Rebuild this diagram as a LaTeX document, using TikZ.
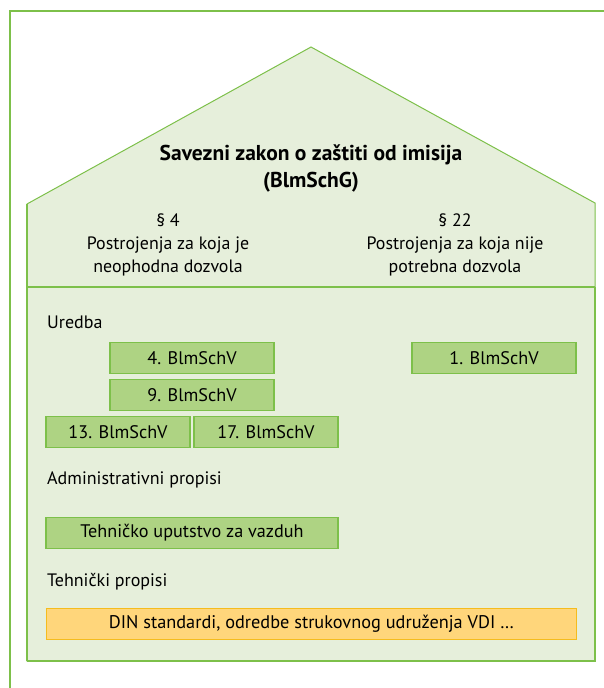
\documentclass[tikz,border=0pt]{standalone}
\usepackage{fontspec}
\setmainfont{PT Sans}
\definecolor{hgreen}{HTML}{7DC04A}
\definecolor{hfill}{HTML}{E6EFDB}
\definecolor{bfill}{HTML}{AED383}
\definecolor{dfill}{HTML}{FFD67B}
\definecolor{dline}{HTML}{F5BC1E}
\begin{document}
\begin{tikzpicture}[x=1pt,y=-1pt,
  gbox/.style={draw=hgreen,fill=bfill,line width=1.2pt,minimum height=31pt,inner sep=0pt,font=\fontsize{18.2}{20}\selectfont},
  ybox/.style={draw=dline,fill=dfill,line width=1.5pt,minimum height=31pt,inner sep=0pt,font=\fontsize{18.3}{20}\selectfont},
  lbl/.style={anchor=west,inner sep=0pt,font=\fontsize{18}{20}\selectfont},
  ctext/.style={align=center,inner sep=0pt,font=\fontsize{17.9}{23}\selectfont}]
\useasboundingbox (0,0) rectangle (603,688);
% outer frame (only top and left visible)
\draw[hgreen,line width=1.5pt] (10,700) -- (10,11) -- (610,11);
% house
\draw[hgreen,fill=hfill,line width=1pt] (27,661) -- (27,204) -- (311,47) -- (595,203) -- (595,661) -- cycle;
\draw[hgreen,line width=2pt] (27,661) -- (595,661) -- (595,287);
\draw[hgreen,line width=1.5pt] (27,287) -- (595,287);
\draw[hgreen,line width=1.5pt] (27,204) -- (27,661);
% title
\node[ctext,font=\bfseries\fontsize{21.5}{27}\selectfont] (title) at (311,168) {Savezni zakon o zaštiti od imisija\\(BlmSchG)};
\node[ctext] (p4) at (168,245) {§ 4\\Postrojenja za koja je\\neophodna dozvola};
\node[ctext] (p22) at (455,245) {§ 22\\Postrojenja za koja nije\\potrebna dozvola};
% sections
\node[lbl] (ur) at (47,322) {Uredba};
\node[gbox,minimum width=164pt] (b4) at (192,358) {4. BlmSchV};
\node[gbox,minimum width=164pt] (b9) at (192,395) {9. BlmSchV};
\node[gbox,minimum width=144pt] (b13) at (118,432) {13. BlmSchV};
\node[gbox,minimum width=144pt] (b17) at (266,432) {17. BlmSchV};
\node[gbox,minimum width=164pt] (b1) at (494,358) {1. BlmSchV};
\node[lbl] (adm) at (47,480) {Administrativni propisi};
\node[gbox,minimum width=292pt] (tuv) at (192,533) {Tehničko uputstvo za vazduh};
\node[lbl] (teh) at (47,582) {Tehnički propisi};
\node[ybox,minimum width=530pt] (din) at (311.5,624) {DIN standardi, odredbe strukovnog udruženja VDI \dots};
\end{tikzpicture}
\end{document}
